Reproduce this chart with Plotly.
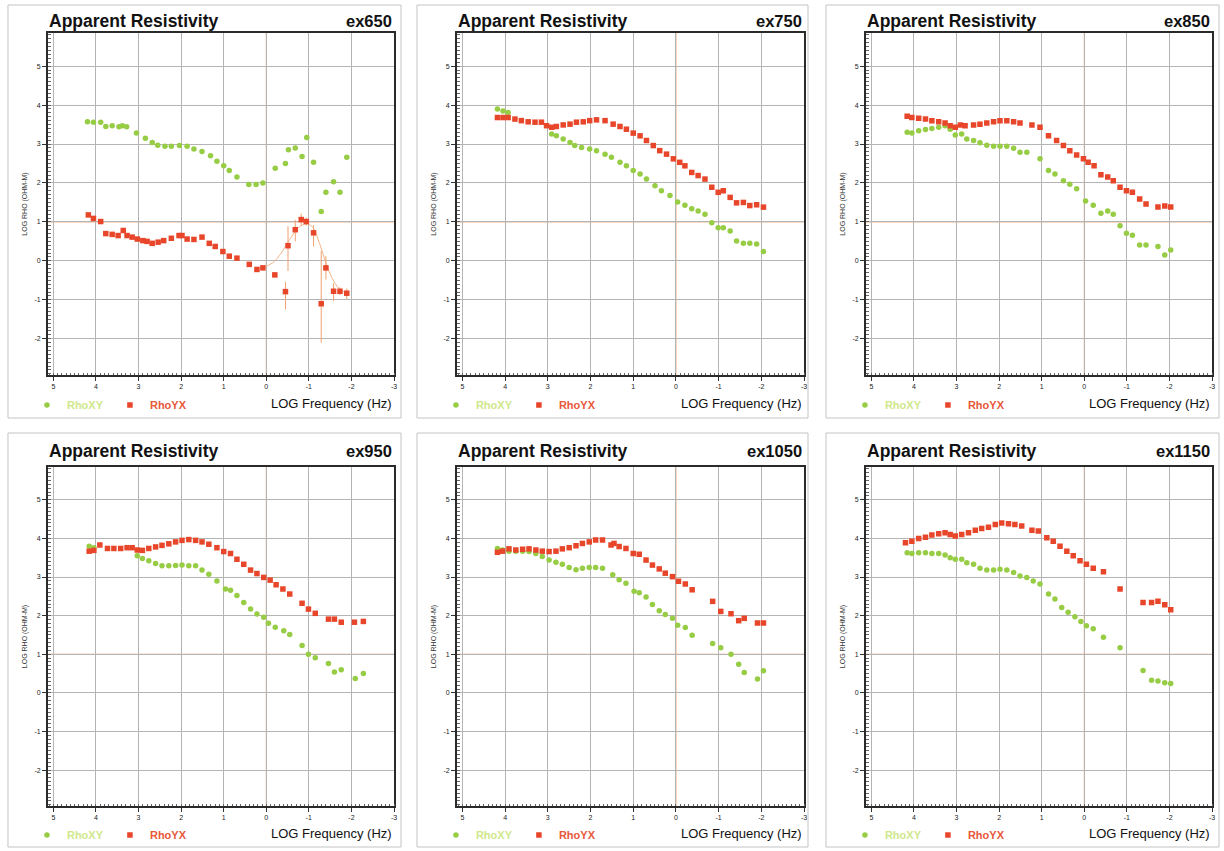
import plotly.graph_objects as go

# ---------------- data (log10 frequency, log10 apparent resistivity) ----------------
ex650_xy_f = [4.20, 4.06, 3.89, 3.77, 3.62, 3.46, 3.38, 3.28, 3.05, 2.84, 2.68, 2.55, 2.38, 2.23, 2.04, 1.86, 1.70, 1.51,
              1.31, 1.16, 1.00, 0.87, 0.69, 0.41, 0.24, 0.08, -0.21, -0.45, -0.52, -0.68, -0.84, -0.95, -1.11, -1.29,
              -1.40, -1.58, -1.73, -1.89]
ex650_xy_r = [3.57, 3.56, 3.56, 3.45, 3.47, 3.44, 3.47, 3.44, 3.28, 3.15, 3.04, 2.97, 2.94, 2.94, 2.96, 2.94, 2.87, 2.81,
              2.70, 2.56, 2.44, 2.32, 2.15, 1.96, 1.96, 2.00, 2.38, 2.50, 2.85, 2.90, 2.68, 3.17, 2.53, 1.27,
              1.76, 2.03, 1.76, 2.66]
ex650_yx_f = [4.18, 4.06, 3.89, 3.77, 3.62, 3.48, 3.36, 3.27, 3.15, 3.03, 2.90, 2.80, 2.68, 2.54, 2.41, 2.23, 2.05, 1.98,
              1.86, 1.70, 1.51, 1.34, 1.20, 1.02, 0.87, 0.69, 0.40, 0.22, 0.08, -0.20, -0.45, -0.51, -0.68, -0.82,
              -0.94, -1.11, -1.29, -1.40, -1.58, -1.73, -1.89]
ex650_yx_r = [1.18, 1.09, 1.01, 0.70, 0.68, 0.65, 0.78, 0.65, 0.61, 0.56, 0.52, 0.50, 0.45, 0.48, 0.52, 0.58, 0.65, 0.65,
              0.56, 0.55, 0.61, 0.45, 0.37, 0.24, 0.12, 0.07, -0.09, -0.22, -0.18, -0.36, -0.79, 0.39, 0.80, 1.06,
              1.01, 0.72, -1.10, -0.18, -0.78, -0.78, -0.83]
ex650_yx_err_up = [0] * 30 + [0.25, 0.50, 0.25, 0.15, 0.10, 0.20, 1.35, 0.30, 0.20, 0.10, 0.12]
ex650_yx_err_dn = [0] * 30 + [0.45, 0.65, 0.30, 0.15, 0.10, 0.35, 1.00, 0.30, 0.25, 0.10, 0.15]
ex650_fit_f = [0.10, -0.15, -0.35, -0.55, -0.75, -0.95, -1.10, -1.25, -1.40, -1.55, -1.70, -1.90]
ex650_fit_r = [-0.18, -0.05, 0.20, 0.55, 0.85, 0.95, 0.85, 0.45, -0.05, -0.45, -0.70, -0.85]

ex750_xy_f = [4.18, 4.05, 3.93, 2.91, 2.80, 2.64, 2.48, 2.37, 2.21, 2.02, 1.86, 1.66, 1.51, 1.31, 1.16, 1.00, 0.84, 0.69,
              0.49, 0.34, 0.14, -0.04, -0.21, -0.37, -0.52, -0.68, -0.84, -0.99, -1.11, -1.27, -1.42, -1.58, -1.73,
              -1.89, -2.05]
ex750_xy_r = [3.90, 3.85, 3.81, 3.26, 3.21, 3.13, 3.04, 2.96, 2.91, 2.87, 2.83, 2.74, 2.66, 2.53, 2.44, 2.32, 2.23, 2.10,
              1.93, 1.80, 1.68, 1.51, 1.43, 1.34, 1.28, 1.20, 0.98, 0.85, 0.85, 0.77, 0.51, 0.45, 0.45, 0.43, 0.24]
ex750_yx_f = [4.18, 4.05, 3.93, 3.77, 3.62, 3.46, 3.30, 3.15, 3.03, 2.91, 2.80, 2.64, 2.48, 2.33, 2.17, 2.02, 1.86, 1.66,
              1.47, 1.31, 1.16, 1.00, 0.84, 0.69, 0.53, 0.38, 0.22, 0.06, -0.09, -0.21, -0.37, -0.52, -0.68, -0.84,
              -0.99, -1.11, -1.27, -1.42, -1.58, -1.73, -1.89, -2.05]
ex750_yx_r = [3.68, 3.68, 3.68, 3.64, 3.60, 3.57, 3.56, 3.56, 3.47, 3.43, 3.45, 3.49, 3.51, 3.56, 3.57, 3.60, 3.62, 3.60,
              3.51, 3.45, 3.38, 3.28, 3.21, 3.09, 2.96, 2.83, 2.74, 2.62, 2.53, 2.44, 2.27, 2.19, 2.10, 1.89,
              1.76, 1.80, 1.63, 1.49, 1.50, 1.42, 1.44, 1.38]

ex850_xy_f = [4.16, 4.05, 3.89, 3.73, 3.58, 3.42, 3.27, 3.15, 3.03, 2.88, 2.76, 2.60, 2.45, 2.29, 2.13, 1.98, 1.82, 1.66,
              1.51, 1.35, 1.04, 0.84, 0.69, 0.49, 0.34, 0.18, -0.03, -0.21, -0.39, -0.55, -0.68, -0.84, -0.99, -1.13,
              -1.30, -1.45, -1.73, -1.89, -2.03]
ex850_xy_r = [3.30, 3.28, 3.34, 3.37, 3.40, 3.43, 3.47, 3.38, 3.23, 3.26, 3.13, 3.09, 3.03, 2.97, 2.94, 2.94, 2.94, 2.89,
              2.79, 2.79, 2.62, 2.32, 2.23, 2.06, 1.97, 1.85, 1.54, 1.43, 1.22, 1.28, 1.20, 0.90, 0.71, 0.66,
              0.41, 0.41, 0.37, 0.15, 0.28]
ex850_yx_f = [4.16, 4.05, 3.89, 3.73, 3.58, 3.42, 3.27, 3.15, 3.03, 2.91, 2.80, 2.60, 2.45, 2.29, 2.13, 1.98, 1.82, 1.66,
              1.51, 1.23, 1.04, 0.84, 0.65, 0.49, 0.34, 0.18, 0.02, -0.09, -0.23, -0.39, -0.55, -0.68, -0.84, -0.99,
              -1.13, -1.30, -1.45, -1.73, -1.89, -2.03]
ex850_yx_r = [3.71, 3.68, 3.66, 3.64, 3.60, 3.57, 3.54, 3.47, 3.43, 3.49, 3.47, 3.49, 3.51, 3.54, 3.57, 3.60, 3.60, 3.57,
              3.54, 3.49, 3.43, 3.21, 3.09, 2.96, 2.83, 2.72, 2.62, 2.53, 2.44, 2.21, 2.15, 2.06, 1.89, 1.80,
              1.76, 1.59, 1.46, 1.38, 1.41, 1.38]

ex950_xy_f = [4.16, 4.05, 3.03, 2.91, 2.76, 2.60, 2.45, 2.29, 2.13, 1.98, 1.82, 1.66, 1.51, 1.35, 1.16, 0.96, 0.84, 0.69,
              0.53, 0.37, 0.22, 0.06, -0.05, -0.21, -0.41, -0.55, -0.84, -0.99, -1.15, -1.46, -1.60, -1.76, -2.09, -2.28]
ex950_xy_r = [3.80, 3.76, 3.55, 3.48, 3.42, 3.35, 3.29, 3.29, 3.30, 3.31, 3.29, 3.29, 3.18, 3.07, 2.90, 2.69, 2.66, 2.52,
              2.34, 2.17, 2.04, 1.96, 1.80, 1.70, 1.61, 1.51, 1.23, 1.00, 0.91, 0.76, 0.54, 0.60, 0.37, 0.50]
ex950_yx_f = [4.16, 4.05, 3.91, 3.73, 3.58, 3.42, 3.27, 3.15, 3.03, 2.91, 2.76, 2.60, 2.45, 2.29, 2.13, 1.98, 1.82, 1.66,
              1.51, 1.35, 1.16, 1.00, 0.84, 0.69, 0.53, 0.37, 0.22, 0.06, -0.09, -0.23, -0.39, -0.55, -0.84, -0.99,
              -1.15, -1.46, -1.60, -1.76, -2.07, -2.28]
ex950_yx_r = [3.67, 3.69, 3.83, 3.74, 3.74, 3.74, 3.76, 3.76, 3.70, 3.69, 3.74, 3.78, 3.82, 3.86, 3.91, 3.95, 3.97, 3.95,
              3.91, 3.85, 3.76, 3.66, 3.61, 3.46, 3.33, 3.18, 3.09, 2.99, 2.92, 2.80, 2.69, 2.56, 2.32, 2.17,
              2.06, 1.91, 1.91, 1.83, 1.83, 1.85]

ex1050_xy_f = [4.18, 4.06, 3.91, 3.75, 3.59, 3.44, 3.28, 3.13, 2.97, 2.81, 2.66, 2.50, 2.34, 2.19, 2.03, 1.88, 1.72, 1.48,
               1.33, 1.17, 0.98, 0.86, 0.70, 0.55, 0.39, 0.25, 0.08, -0.04, -0.22, -0.38, -0.86, -1.05, -1.29, -1.47,
               -1.60, -1.91, -2.05]
ex1050_xy_r = [3.74, 3.70, 3.67, 3.67, 3.67, 3.66, 3.61, 3.53, 3.44, 3.38, 3.33, 3.25, 3.19, 3.23, 3.25, 3.25, 3.23, 3.06,
               2.93, 2.84, 2.63, 2.59, 2.48, 2.29, 2.13, 2.03, 1.93, 1.75, 1.69, 1.49, 1.28, 1.17, 1.00, 0.74,
               0.53, 0.36, 0.57]
ex1050_yx_f = [4.18, 4.06, 3.91, 3.75, 3.59, 3.44, 3.28, 3.13, 2.97, 2.81, 2.66, 2.50, 2.34, 2.19, 2.03, 1.88, 1.72, 1.52,
               1.45, 1.33, 1.17, 1.00, 0.86, 0.70, 0.55, 0.39, 0.25, 0.08, -0.06, -0.22, -0.38, -0.86, -1.05, -1.29,
               -1.47, -1.60, -1.91, -2.05]
ex1050_yx_r = [3.64, 3.67, 3.73, 3.70, 3.72, 3.73, 3.70, 3.67, 3.66, 3.67, 3.73, 3.76, 3.81, 3.87, 3.91, 3.96, 3.96, 3.83,
               3.87, 3.79, 3.74, 3.61, 3.59, 3.44, 3.31, 3.21, 3.10, 3.01, 2.89, 2.82, 2.67, 2.37, 2.11, 2.05,
               1.87, 1.93, 1.81, 1.81]

ex1150_xy_f = [4.16, 4.05, 3.89, 3.73, 3.58, 3.42, 3.27, 3.15, 3.03, 2.88, 2.76, 2.60, 2.45, 2.29, 2.13, 1.98, 1.82, 1.66,
               1.51, 1.35, 1.20, 1.04, 0.84, 0.69, 0.53, 0.38, 0.22, 0.08, -0.05, -0.21, -0.45, -0.84, -1.38, -1.58,
               -1.73, -1.89, -2.03]
ex1150_xy_r = [3.63, 3.61, 3.63, 3.63, 3.61, 3.61, 3.57, 3.50, 3.46, 3.46, 3.37, 3.33, 3.23, 3.18, 3.18, 3.20, 3.18, 3.12,
               3.03, 2.99, 2.90, 2.82, 2.56, 2.43, 2.21, 2.09, 1.97, 1.85, 1.74, 1.66, 1.44, 1.17, 0.58, 0.33,
               0.31, 0.26, 0.24]
ex1150_yx_f = [4.20, 4.05, 3.89, 3.73, 3.58, 3.42, 3.27, 3.15, 3.03, 2.88, 2.72, 2.56, 2.41, 2.25, 2.09, 1.94, 1.78, 1.63,
               1.47, 1.23, 1.08, 0.88, 0.73, 0.57, 0.41, 0.26, 0.10, -0.05, -0.21, -0.45, -0.84, -1.38, -1.58, -1.73,
               -1.89, -2.03]
ex1150_yx_r = [3.89, 3.93, 4.00, 4.03, 4.09, 4.12, 4.15, 4.10, 4.06, 4.10, 4.15, 4.21, 4.26, 4.29, 4.36, 4.40, 4.38, 4.36,
               4.32, 4.21, 4.19, 4.02, 3.93, 3.80, 3.67, 3.55, 3.42, 3.33, 3.23, 3.14, 2.69, 2.34, 2.34, 2.37,
               2.28, 2.15]

site_names = ["ex650", "ex750", "ex850", "ex950", "ex1050", "ex1150"]
x_tick_vals = [5, 4, 3, 2, 1, 0, -1, -2, -3]
x_tick_text = ["5", "4", "3", "2", "1", "0", "-1", "-2", "-3"]
y_tick_vals = [5, 4, 3, 2, 1, 0, -1, -2]
y_tick_text = ["5", "4", "3", "2", "1", "0", "-1", "-2"]

panels = [
    (ex650_xy_f, ex650_xy_r, ex650_yx_f, ex650_yx_r),
    (ex750_xy_f, ex750_xy_r, ex750_yx_f, ex750_yx_r),
    (ex850_xy_f, ex850_xy_r, ex850_yx_f, ex850_yx_r),
    (ex950_xy_f, ex950_xy_r, ex950_yx_f, ex950_yx_r),
    (ex1050_xy_f, ex1050_xy_r, ex1050_yx_f, ex1050_yx_r),
    (ex1150_xy_f, ex1150_xy_r, ex1150_yx_f, ex1150_yx_r),
]

# ---------------- styling / layout ----------------
W, H = 1224, 851
GREEN = "#97cc45"
RED = "#e8462a"
ORANGE = "#f3a36c"
GRID = "#b4b4b4"
FONT = "Liberation Sans, Arial, sans-serif"

col_px = [(48, 395), (458, 806), (868, 1215)]
row_px = [(33, 375), (467, 806)]
frame_x = [(8, 402), (418, 810), (828, 1222)]
frame_y = [(5, 418), (433, 847)]
title_y = [21, 451]
legend_y = [405, 835]


def px_x(v):
    return v / W


def px_y(v):
    return 1 - v / H


fig = go.Figure()
annotations = []
shapes = []

for i, (xy_f, xy_r, yx_f, yx_r) in enumerate(panels):
    r, c = divmod(i, 3)
    n = i + 1
    xa = "x" if n == 1 else f"x{n}"
    ya = "y" if n == 1 else f"y{n}"
    leg = "legend" if n == 1 else f"legend{n}"

    if n == 1:
        fig.add_trace(go.Scatter(x=ex650_fit_f, y=ex650_fit_r, mode="lines", xaxis=xa, yaxis=ya,
                                 line=dict(color="#f5b48a", width=1, shape="spline"),
                                 showlegend=False, hoverinfo="skip"))
    fig.add_trace(go.Scatter(
        x=xy_f, y=xy_r, mode="markers", xaxis=xa, yaxis=ya, legend=leg,
        name="<span style='color:#cfe88a'><b>RhoXY</b></span>",
        marker=dict(symbol="circle", size=5.5, color=GREEN)))
    red_kw = {}
    if n == 1:
        red_kw["error_y"] = dict(type="data", symmetric=False, array=ex650_yx_err_up,
                                 arrayminus=ex650_yx_err_dn, color="#f0a070", thickness=1, width=0)
    fig.add_trace(go.Scatter(
        x=yx_f, y=yx_r, mode="markers", xaxis=xa, yaxis=ya, legend=leg,
        name="<span style='color:#e8583a'><b>RhoYX</b></span>",
        marker=dict(symbol="square", size=5.5, color=RED), **red_kw))

    x0, x1 = col_px[c]
    y0, y1 = row_px[r]
    axis_common = dict(showline=True, linecolor="#2a2a2a", linewidth=1.5, mirror=True,
                       showgrid=True, gridcolor=GRID, gridwidth=1, zeroline=False,
                       ticks="outside", ticklen=4, tickcolor="#333", tickwidth=1,
                       tickfont=dict(family=FONT, size=7, color="#222"))
    fig.layout[f"xaxis{'' if n == 1 else n}"] = dict(
        domain=[px_x(x0), px_x(x1)], anchor=ya, range=[5.13, -3],
        tickvals=x_tick_vals, ticktext=x_tick_text,
        minor=dict(ticks="inside", ticklen=2, dtick=0.1, tickcolor="#666", showgrid=False),
        **axis_common)
    fig.layout[f"yaxis{'' if n == 1 else n}"] = dict(
        domain=[px_y(y1), px_y(y0)], anchor=xa, range=[-2.93, 5.85],
        tickvals=y_tick_vals, ticktext=y_tick_text,
        minor=dict(ticks="inside", ticklen=3, dtick=0.1, tickcolor="#666", showgrid=False),
        title=dict(text="LOG RHO (OHM-M)", font=dict(family=FONT, size=7, color="#333"), standoff=6),
        **axis_common)

    # reference lines at log f = 0 and log rho = 1
    shapes.append(dict(type="line", xref=xa, yref=f"{ya} domain", x0=0, x1=0, y0=0, y1=1,
                       line=dict(color=ORANGE, width=1), layer="below"))
    shapes.append(dict(type="line", xref=f"{xa} domain", yref=ya, x0=0, x1=1, y0=1, y1=1,
                       line=dict(color=ORANGE, width=1), layer="below"))
    # panel frame
    fx0, fx1 = frame_x[c]
    fy0, fy1 = frame_y[r]
    shapes.append(dict(type="rect", xref="paper", yref="paper", x0=px_x(fx0), x1=px_x(fx1),
                       y0=px_y(fy1), y1=px_y(fy0), line=dict(color="#c4c4c4", width=1)))

    annotations.append(dict(text="<b>Apparent Resistivity</b>", xref="paper", yref="paper",
                            x=px_x(x0 - 1), y=px_y(title_y[r]), xanchor="left", yanchor="middle",
                            showarrow=False, font=dict(family=FONT, size=17.5, color="#111")))
    annotations.append(dict(text=f"<b>{site_names[i]}</b>", xref="paper", yref="paper",
                            x=px_x(x1), y=px_y(title_y[r]), xanchor="right", yanchor="middle",
                            showarrow=False, font=dict(family=FONT, size=16.5, color="#111")))
    annotations.append(dict(text="LOG Frequency (Hz)", xref="paper", yref="paper",
                            x=px_x(x1), y=px_y(legend_y[r] - 2), xanchor="right", yanchor="middle",
                            showarrow=False, font=dict(family=FONT, size=13, color="#111")))

    fig.layout[leg] = dict(x=px_x(x0 - 21), y=px_y(legend_y[r]), xanchor="left", yanchor="middle",
                           orientation="h", bgcolor="rgba(0,0,0,0)", itemsizing="trace",
                           entrywidth=38, entrywidthmode="pixels", tracegroupgap=0,
                           font=dict(family=FONT, size=11))

fig.update_layout(
    width=W, height=H, margin=dict(l=0, r=0, t=0, b=0),
    paper_bgcolor="white", plot_bgcolor="white",
    annotations=annotations, shapes=shapes,
)

fig.write_html("out.html")
